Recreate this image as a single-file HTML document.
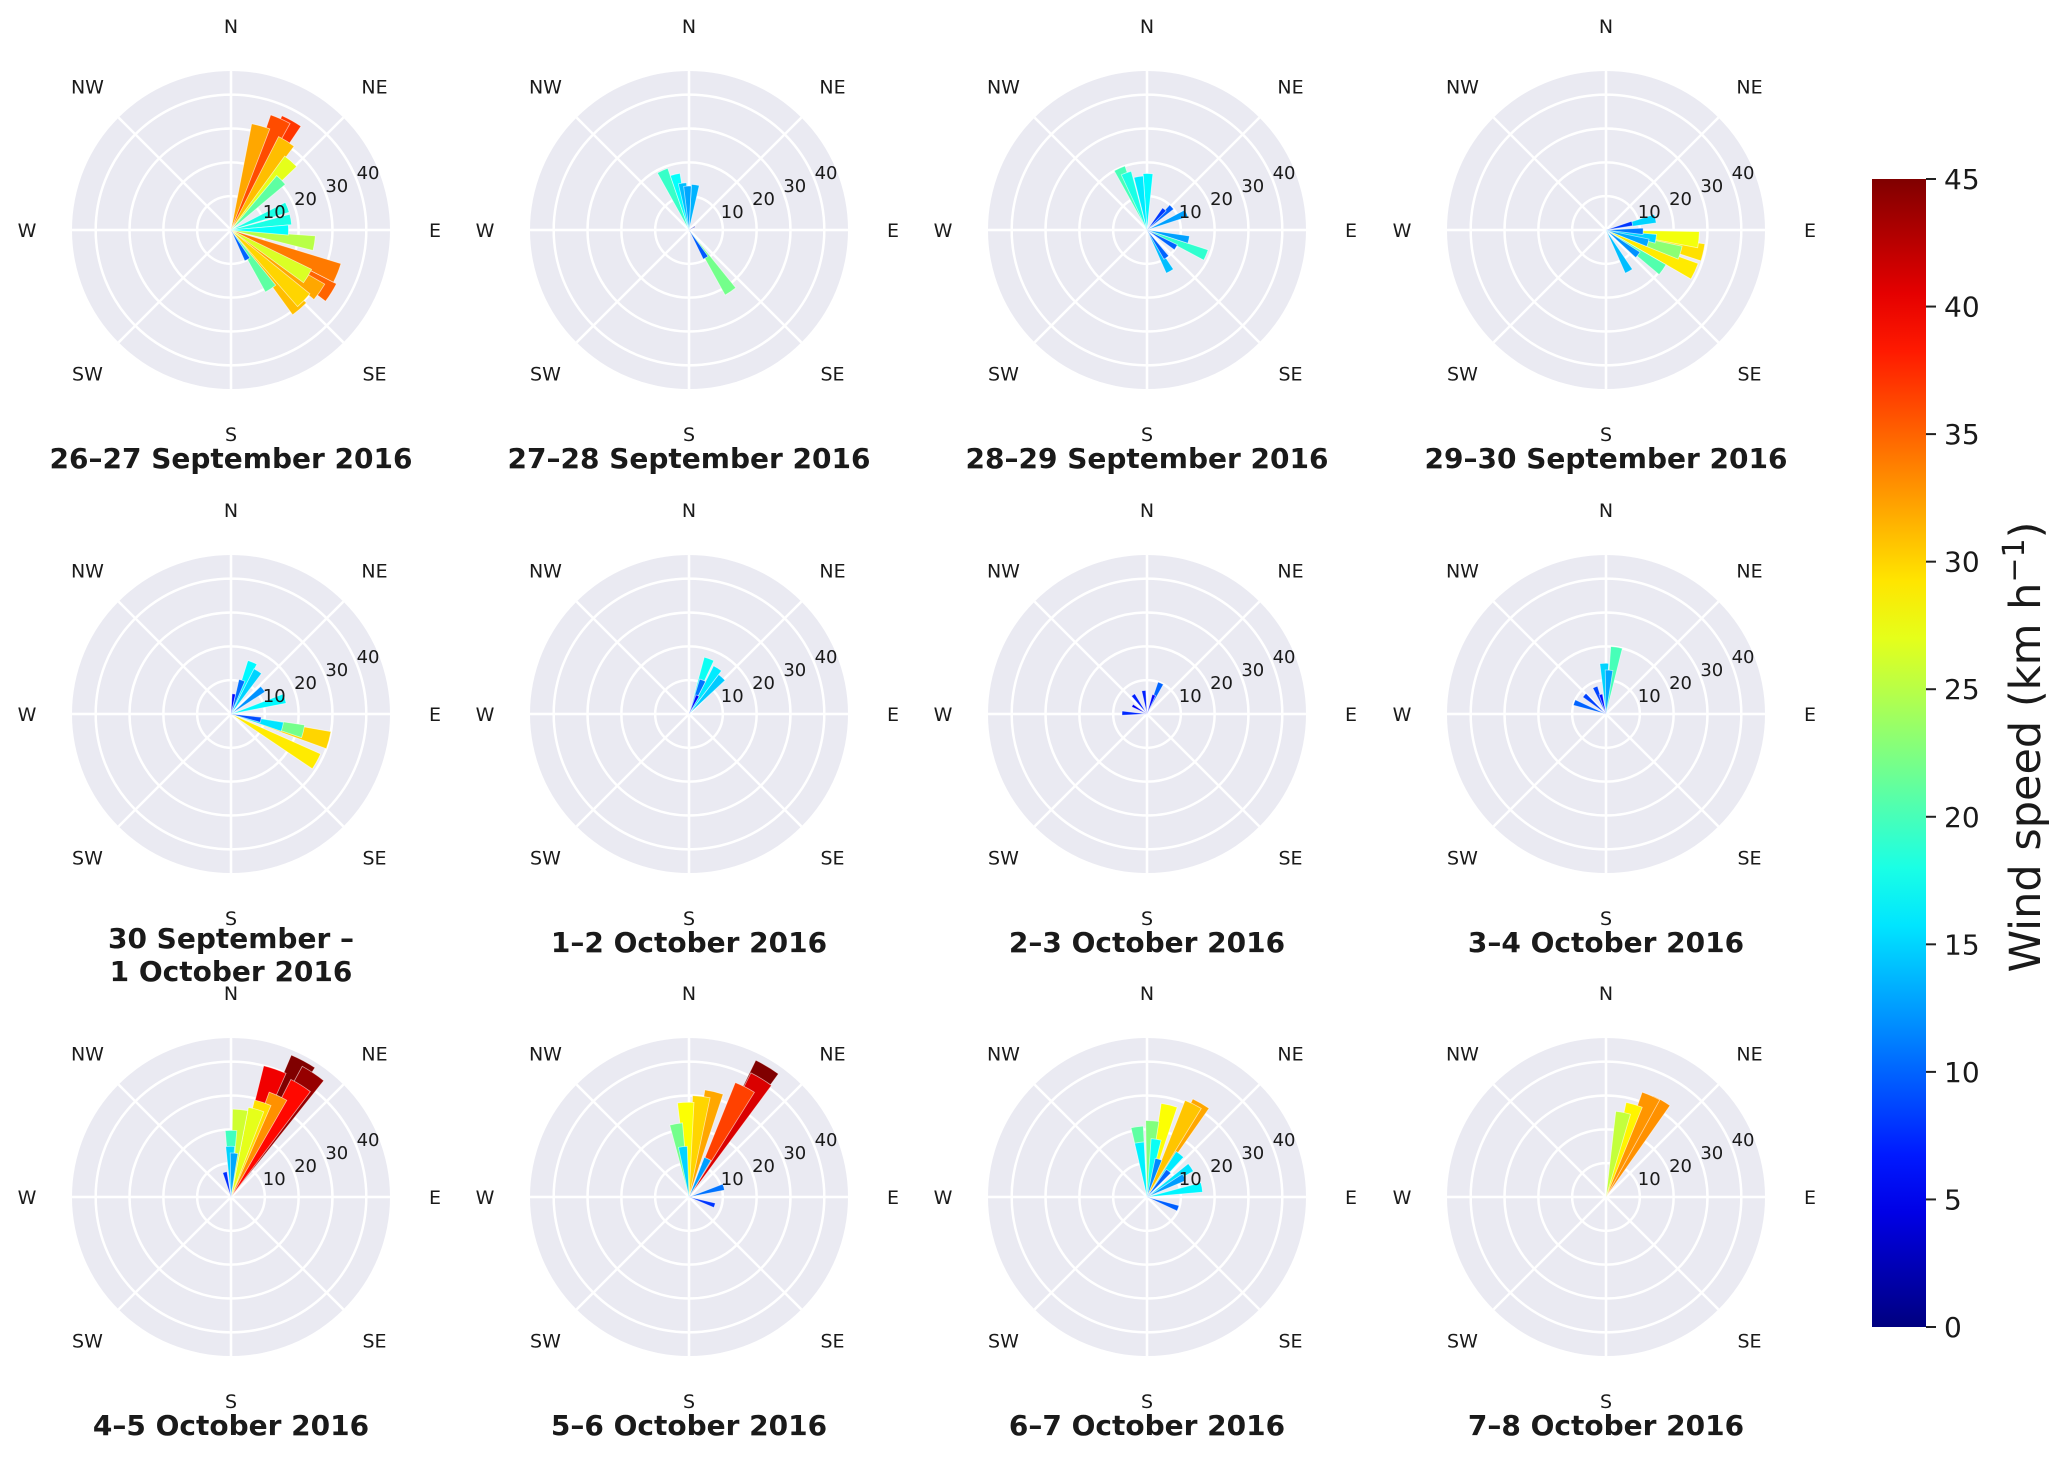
<!DOCTYPE html>
<html><head><meta charset="utf-8"><style>
html,body{margin:0;padding:0;background:#fff;}
svg{display:block;}
text{font-family:"DejaVu Sans","Liberation Sans",sans-serif;fill:#1a1a1a;}
</style></head><body>
<svg id="fig" width="2067" height="1461" viewBox="0 0 2067 1461"></svg>
<script>
// ---- data: each panel: directions (deg clockwise from N) and speeds (km/h)
const titles = [
  ["26–27 September 2016"],["27–28 September 2016"],["28–29 September 2016"],["29–30 September 2016"],
  ["30 September –","1 October 2016"],["1–2 October 2016"],["2–3 October 2016"],["3–4 October 2016"],
  ["4–5 October 2016"],["5–6 October 2016"],["6–7 October 2016"],["7–8 October 2016"]
];
const dir1 = [16,29,32,24,41,45,68,80,90,99,112,122,121,125,139,134,146,151];
const spd1 = [32,37,31,36,27,21,18,18,17,25,34,35,26.5,32,31,30,21,10];
const dir2 = [336,346,352,8,358,146,149,60];
const spd2 = [19.3,17,14,13.5,13,22,9.6,2];
const dir3 = [336,340,351,1,47,67,40,103,113,121,151,145];
const spd3 = [20,18,16,16.7,10,12.7,8,12.7,19,10,14,10];
const dir4 = [77,76,92,107,96,103,115,107,125,128,151,100];
const spd4 = [15,8,11,13,27.6,29.5,29,23,20.5,12,14,15];
const dir5 = [22.5,32,18,8,52,74,101,104,103.5,105,119];
const spd5 = [16.6,15,10.5,6,12,16.6,9,15.7,22,30,29];
const dir6 = [20,32,42,22,25];
const spd6 = [17.4,16,14.6,10.8,6];
const dir7 = [24,352,324,272,300,20];
const spd7 = [10,7,7,7.4,5,6];
const dir8 = [9,358,4,338,311,290,345];
const spd8 = [20,15,13,8.6,8.5,10,6];
const dir9 = [28,33.6,32,19,25,18.6,16,6,0,359,346,4];
const spd9 = [45.6,44,39,40,33,29.5,27,26,19.7,15,7.6,13];
const dir10 = [31,31.5,27,13.4,7,358,350,353,26,74,108];
const spd10 = [45,41,36.5,32,30,28,22,15,12.6,10.7,8];
const dir11 = [30,26.5,13.6,4,352,352,9,17,37.6,40,56,62,80,110];
const spd11 = [32,30.7,28,22.6,21,16.3,17.3,11.7,16,10,15.7,12.5,16.5,9.8];
const dir12 = [30,24,17,11.5];
const spd12 = [33,32.8,28.6,25.5];
const dirs = [dir1,dir2,dir3,dir4,dir5,dir6,dir7,dir8,dir9,dir10,dir11,dir12];
const spds = [spd1,spd2,spd3,spd4,spd5,spd6,spd7,spd8,spd9,spd10,spd11,spd12];
const rTicks = [10,20,30,40];
const compass = ["N","NE","E","SE","S","SW","W","NW"];
const cbTicks = [0,5,10,15,20,25,30,35,40,45];

const NS="http://www.w3.org/2000/svg";
const svg=document.getElementById('fig');
function el(t,a,p){const e=document.createElementNS(NS,t);for(const k in a)e.setAttribute(k,a[k]);(p||svg).appendChild(e);return e;}
function jet(v){const x=Math.max(0,Math.min(1,v/45));const c=f=>Math.round(255*Math.max(0,Math.min(1,f)));
 return `rgb(${c(1.5-Math.abs(4*x-3))},${c(1.5-Math.abs(4*x-2))},${c(1.5-Math.abs(4*x-1))})`;}
const colX=[231,689,1147,1606], rowY=[230,714,1197];
const R=159, RMAX=47, WIDTH=10;
const rs=v=>v/RMAX*R;
function pt(cx,cy,deg,r){const a=deg*Math.PI/180;return [cx+r*Math.sin(a),cy-r*Math.cos(a)];}

for(let i=0;i<12;i++){
  const cx=colX[i%4], cy=rowY[Math.floor(i/4)];
  const g=el('g',{});
  
  
  const bg=el('circle',{cx,cy,r:R,fill:'#eaeaf2'},g);
  
  
  rTicks.forEach(t=>{const c=el('circle',{cx,cy,r:rs(t),fill:'none',stroke:'#fff','stroke-width':2.5},g);
    });
  for(let k=0;k<8;k++){const p=pt(cx,cy,k*45,R);const l=el('line',{x1:cx,y1:cy,x2:p[0],y2:p[1],stroke:'#fff','stroke-width':2.5},g);
    }
  const d=dirs[i], s=spds[i];
  const idx=d.map((_,j)=>j).sort((a,b)=>s[b]-s[a]);
  idx.forEach(j=>{
    const r=rs(s[j]);const p1=pt(cx,cy,d[j]-WIDTH/2,r),p2=pt(cx,cy,d[j]+WIDTH/2,r);
    const w=el('path',{d:`M${cx},${cy}L${p1[0]},${p1[1]}A${r},${r} 0 0 1 ${p2[0]},${p2[1]}Z`,fill:jet(s[j]),stroke:'rgba(255,255,255,0.6)','stroke-width':0.8},g);
    
    
  });
  rTicks.forEach(t=>{const p=pt(cx,cy,67.5,rs(t)+13);const tx=el('text',{x:p[0],y:p[1]+6,'font-size':18,'text-anchor':'middle'},g);tx.textContent=t;
    });
  compass.forEach((c,k)=>{const ang=k*45;let r=(k%2===0)?204:203;
    const p=pt(cx,cy,ang,r);const tx=el('text',{x:p[0],y:p[1]+7,'font-size':19,'text-anchor':'middle'},g);tx.textContent=c;
    });
  const tl=titles[i];
  if(tl.length===1){const tx=el('text',{x:cx,y:cy+238,'font-size':28,'font-weight':'bold','text-anchor':'middle'},g);tx.textContent=tl[0];
    }
  else{tl.forEach((t,k)=>{const tx=el('text',{x:cx,y:cy+234+k*33,'font-size':28,'font-weight':'bold','text-anchor':'middle'},g);tx.textContent=t;
    });}
}
// colorbar
const defs=el('defs',{});
const lg=el('linearGradient',{id:'jetg',x1:0,y1:1,x2:0,y2:0},defs);
for(let k=0;k<=20;k++){el('stop',{offset:k/20,'stop-color':jet(k/20*45)},lg);}
const cbx=1872,cbw=54,cbt=179,cbb=1327;
const cb=el('rect',{x:cbx,y:cbt,width:cbw,height:cbb-cbt,fill:'url(#jetg)'});


cbTicks.forEach(t=>{const y=cbb-(t/45)*(cbb-cbt);
  const l=el('line',{x1:cbx+cbw,x2:cbx+cbw+10,y1:y,y2:y,stroke:'#222','stroke-width':2});
  
  const tx=el('text',{x:cbx+cbw+18,y:y+10,'font-size':28});tx.textContent=t;
  });
const lab=el('text',{x:0,y:0,'font-size':43,'text-anchor':'middle',transform:'translate(2040,747) rotate(-90)'});
lab.innerHTML='Wind speed (km h<tspan dy="-16" font-size="30">−1</tspan><tspan dy="16">)</tspan>';


</script>
</body></html>
